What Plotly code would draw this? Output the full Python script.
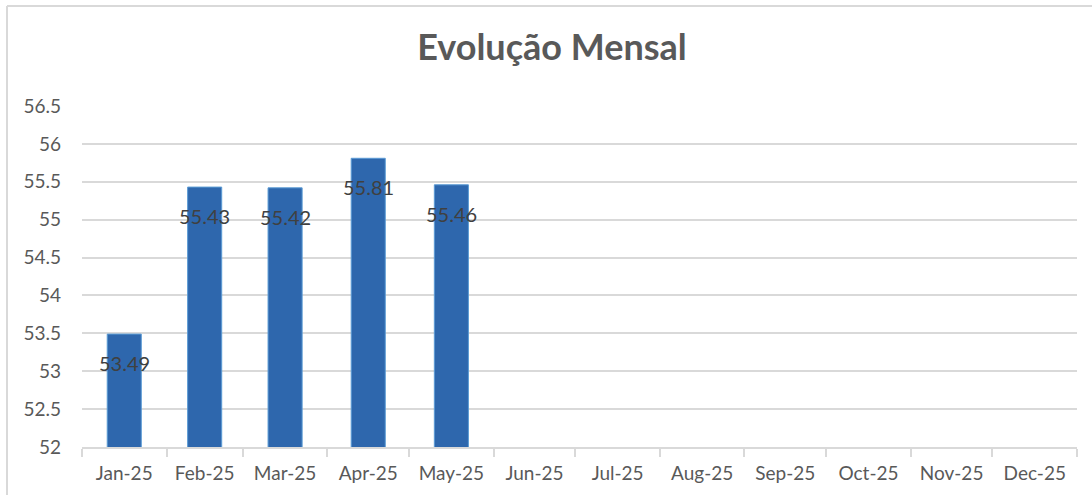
import plotly.graph_objects as go
import pandas as pd

months = ["2025-01-01", "2025-02-01", "2025-03-01", "2025-04-01", "2025-05-01"]
values = [53.49, 55.43, 55.42, 55.81, 55.46]
labels = ["53.49", "55.43", "55.42", "55.81", "55.46"]
title_text = "Evolução Mensal"
y_ticks = [52, 52.5, 53, 53.5, 54, 54.5, 55, 55.5, 56, 56.5]

W, H = 1092, 495
L, R, T, B = 82, 15, 106, 48
pw = W - L - R
ph = H - T - B

fig = go.Figure()
fig.add_trace(go.Bar(
    x=months, y=values,
    xperiod="M1", xperiodalignment="middle",
    width=12.5 * 86400000,
    marker=dict(color="#2e67ad", line=dict(color="#5b9bd5", width=1)),
    hoverinfo="x+y",
))

for m, v, t in zip(months, values, labels):
    start = pd.Timestamp(m)
    mid = start + (start + pd.offsets.MonthBegin(1) - start) / 2
    fig.add_annotation(
        x=mid.strftime("%Y-%m-%d %H:%M:%S"), y=v, text=t, showarrow=False,
        xref="x", yref="y", yanchor="middle", yshift=-29,
        font=dict(family="Lato", size=20, color="#404040"),
    )

def px_x(p):
    return (p - L) / pw

def px_y(p):
    return (H - B - p) / ph

fig.add_shape(type="line", xref="paper", yref="paper",
              x0=px_x(7), x1=px_x(7), y0=px_y(495), y1=px_y(6),
              line=dict(color="#d9d9d9", width=2))
fig.add_shape(type="line", xref="paper", yref="paper",
              x0=px_x(7), x1=px_x(1092), y0=px_y(6), y1=px_y(6),
              line=dict(color="#d9d9d9", width=2))

fig.update_layout(
    width=W, height=H,
    margin=dict(l=L, r=R, t=T, b=B),
    paper_bgcolor="white", plot_bgcolor="white",
    showlegend=False,
    title=dict(text="<b>" + title_text + "</b>", x=552 / W, xref="container",
               xanchor="center",
               y=(H - 47) / H, yanchor="middle",
               font=dict(family="Lato", size=36, color="#595959")),
    xaxis=dict(
        type="date", range=["2025-01-01", "2026-01-01"],
        dtick="M1", tick0="2025-01-01", tickformat="%b-%y",
        ticklabelmode="period",
        ticks="outside", ticklen=8, tickcolor="#d9d9d9", tickwidth=2,
        showline=True, linecolor="#d9d9d9", linewidth=2,
        showgrid=False, zeroline=False,
        tickfont=dict(family="Lato", size=19, color="#595959"),
    ),
    yaxis=dict(
        range=[52, 56.5], tickvals=y_ticks,
        ticktext=[("%g" % v) for v in y_ticks],
        showgrid=True, gridcolor="#d9d9d9", gridwidth=2,
        zeroline=False, showline=False, ticks="",
        ticklabelstandoff=20,
        tickfont=dict(family="Lato", size=19, color="#595959"),
    ),
)

fig.write_html("out.html",
               config={"displayModeBar": False},
               post_script="document.body.style.margin='0';document.body.style.overflow='hidden';")
